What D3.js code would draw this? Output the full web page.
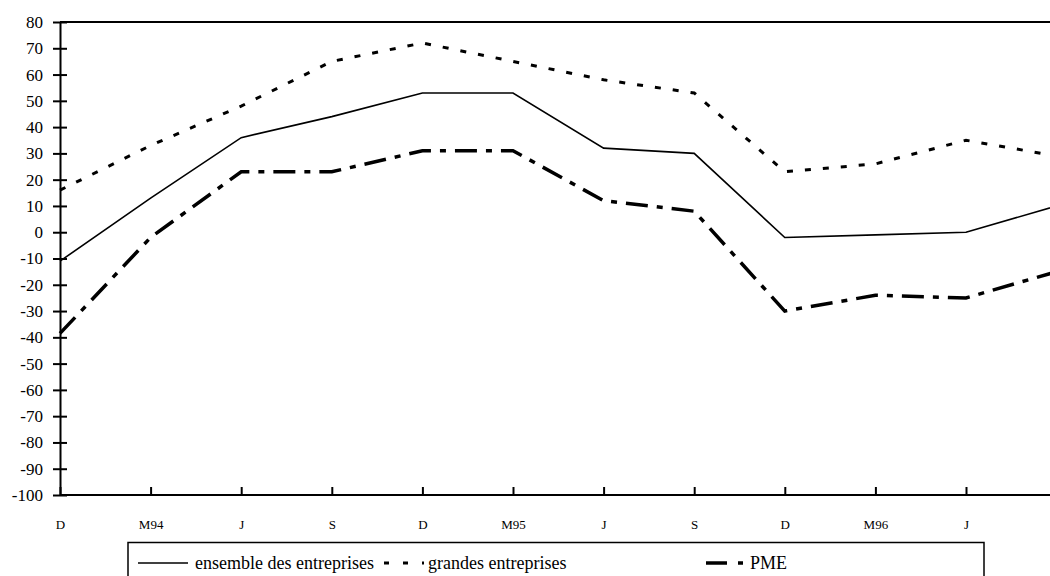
<!DOCTYPE html>
<html lang="fr">
<head>
    <meta charset="UTF-8">
    <title>Ensemble, grandes entreprises, PME</title>
    <style>
        body {
            margin: 0;
            padding: 0;
            background-color: #fff;
            font-family: 'Liberation Serif', 'Times New Roman', serif;
        }

        .axis path,
        .axis line {
            stroke: #000;
            stroke-width: 2px;
        }

        .axis text {
            font-family: 'Liberation Serif', 'Times New Roman', serif;
            fill: #000;
        }

        .y-axis text {
            font-size: 17px;
        }

        .x-axis text {
            font-size: 13px;
        }

        .series {
            fill: none;
            stroke: #000;
        }

        .legend text {
            font-size: 18px;
            fill: #000;
        }
    </style>
</head>
<body>
    <div id="chart"></div>

    <script src="https://d3js.org/d3.v7.min.js"></script>
    <script>
        // periods Dec 93 ... Sep 96, the last one has no label on the chart
        const tickLabels = ["D", "M94", "J", "S", "D", "M95", "J", "S", "D", "M96", "J"];
        const ensemble = [-11, 13, 36, 44, 53, 53, 32, 30, -2, -1, 0, 10];
        const grandes = [16, 33, 48, 65, 72, 65, 58, 53, 23, 26, 35, 29];
        const pme = [-38.5, -2, 23, 23, 31, 31, 12, 8, -30, -24, -25, -15];
        const yTicks = d3.range(-100, 81, 10);

        const series = [
            { name: "ensemble des entreprises", values: ensemble, width: 1.6, dash: null },
            { name: "grandes entreprises", values: grandes, width: 3, dash: "6,12" },
            { name: "PME", values: pme, width: 3.5, dash: "22,9,6,9" }
        ];

        const width = 1050;
        const height = 576;
        const margin = { top: 22, left: 60, bottom: 81 };
        const step = 90.6;

        const svg = d3.select("#chart").append("svg")
            .attr("width", width)
            .attr("height", height);

        const x = d3.scaleLinear()
            .domain([0, ensemble.length - 1])
            .range([margin.left, margin.left + step * (ensemble.length - 1)]);

        const y = d3.scaleLinear()
            .domain([-100, 80])
            .range([height - margin.bottom, margin.top]);

        // top border of the plot area
        svg.append("line")
            .attr("x1", margin.left)
            .attr("x2", width + 10)
            .attr("y1", y(80))
            .attr("y2", y(80))
            .attr("stroke", "#000")
            .attr("stroke-width", 2);

        // x axis, ticks point up into the plot
        const xAxis = svg.append("g")
            .attr("class", "axis x-axis")
            .attr("transform", `translate(0,${y(-100)})`)
            .call(d3.axisBottom(x)
                .tickValues(d3.range(tickLabels.length))
                .tickFormat(i => tickLabels[i])
                .tickSizeInner(-8)
                .tickSizeOuter(0)
                .tickPadding(25));
        xAxis.select(".domain").attr("d", `M${margin.left},0H${width + 10}`);
        xAxis.selectAll("text").attr("y", 25);

        // y axis, ticks cross the line
        const yAxis = svg.append("g")
            .attr("class", "axis y-axis")
            .attr("transform", `translate(${margin.left},0)`)
            .call(d3.axisLeft(y)
                .tickValues(yTicks)
                .tickFormat(d => String(d))
                .tickSizeInner(7)
                .tickSizeOuter(0));
        yAxis.selectAll(".tick line").attr("x1", -7).attr("x2", 7);
        yAxis.selectAll("text").attr("x", -17);

        const line = d3.line()
            .x((d, i) => x(i))
            .y(d => y(d));

        svg.selectAll(".series")
            .data(series)
            .enter().append("path")
            .attr("class", "series")
            .attr("d", d => line(d.values))
            .attr("stroke-width", d => d.width)
            .attr("stroke-dasharray", d => d.dash);

        // legend
        const legend = svg.append("g").attr("class", "legend");

        legend.append("rect")
            .attr("x", 128)
            .attr("y", 542.5)
            .attr("width", 856)
            .attr("height", 60)
            .attr("fill", "#fff")
            .attr("stroke", "#000")
            .attr("stroke-width", 1.5);

        const legendX = [138, 384, 706];

        const items = legend.selectAll(".item")
            .data(series)
            .enter().append("g")
            .attr("class", "item")
            .attr("transform", (d, i) => `translate(${legendX[i]},563)`);

        items.append("line")
            .attr("x1", 0)
            .attr("x2", (d, i) => i === 0 ? 50 : 40)
            .attr("stroke", "#000")
            .attr("stroke-width", d => d.width)
            .attr("stroke-dasharray", (d, i) => i === 1 ? "5,14" : (i === 2 ? "21,11,5,9" : null));

        items.append("text")
            .attr("x", (d, i) => i === 0 ? 57 : 44)
            .attr("y", 5.5)
            .text(d => d.name);
    </script>
</body>
</html>
